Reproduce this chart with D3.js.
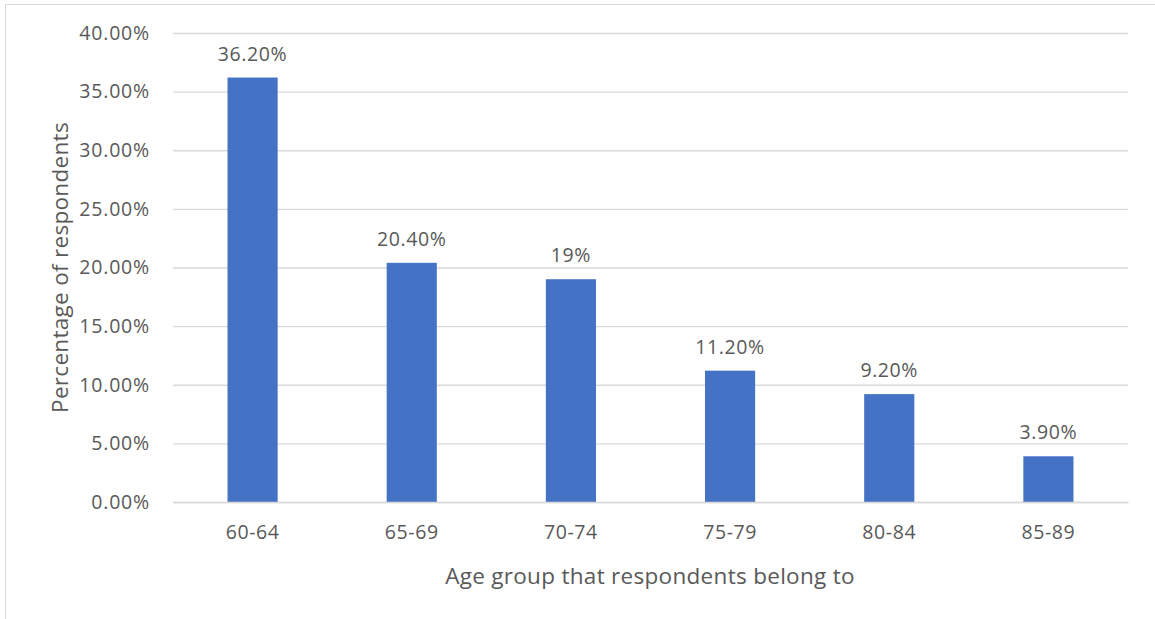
<!DOCTYPE html>
<html><head><meta charset="utf-8">
<script src="https://cdn.jsdelivr.net/npm/d3@7"></script>
<style>body{margin:0;background:#fff;}svg{display:block;}</style>
</head><body>
<script>
const categories = ["60-64","65-69","70-74","75-79","80-84","85-89"];
const values = [36.2, 20.4, 19, 11.2, 9.2, 3.9];
const valueLabels = ["36.20%","20.40%","19%","11.20%","9.20%","3.90%"];
const yTicks = [0,5,10,15,20,25,30,35,40];

const W = 1155, H = 619;
const m = {left:173, right:W-1128, top:33, bottom:H-502};
const font = "'Open Sans', sans-serif";
const textColor = "#595959";

const svg = d3.select("body").append("svg").attr("width",W).attr("height",H);
svg.append("rect").attr("x",5.5).attr("y",4.5).attr("width",W+10).attr("height",H+10)
  .attr("fill","#fff").attr("stroke","#d9d9d9").attr("stroke-width",1);

const x = d3.scaleBand().domain(categories).range([m.left, W-m.right]).paddingInner(0.685).paddingOuter(0.3425);
const y = d3.scaleLinear().domain([0,40]).range([H-m.bottom, m.top]);

const yAxis = svg.append("g").attr("transform",`translate(${m.left},0)`)
  .call(d3.axisLeft(y).tickValues(yTicks).tickSize(-(W-m.right-m.left)).tickPadding(23).tickFormat(d=>d.toFixed(2)+"%"));
yAxis.select(".domain").remove();
yAxis.selectAll(".tick line").attr("stroke","#d9d9d9").attr("stroke-width",1.3);
yAxis.selectAll(".tick text").attr("fill",textColor).style("font-family",font).style("font-size","19.5px").attr("letter-spacing","0.8px");

svg.append("g").selectAll("rect").data(values).join("rect")
  .attr("x",(d,i)=>x(categories[i])).attr("width",x.bandwidth())
  .attr("y",d=>y(d)).attr("height",d=>y(0)-y(d)).attr("fill","#4472C4");

svg.append("g").selectAll("text").data(values).join("text")
  .attr("x",(d,i)=>x(categories[i])+x.bandwidth()/2).attr("y",d=>y(d)-17)
  .attr("text-anchor","middle").attr("fill",textColor).style("font-family",font).style("font-size","19.5px").attr("letter-spacing","0.6px")
  .text((d,i)=>valueLabels[i]);

const xAxis = svg.append("g").attr("transform",`translate(0,${H-m.bottom})`)
  .call(d3.axisBottom(x).tickSize(0).tickPadding(23));
xAxis.select(".domain").attr("stroke","#d9d9d9").attr("stroke-width",1.3);
xAxis.selectAll(".tick text").attr("fill",textColor).style("font-family",font).style("font-size","19.5px").attr("letter-spacing","0.6px");

svg.append("text").attr("x",650).attr("y",584).attr("text-anchor","middle")
  .attr("fill",textColor).style("font-family",font).style("font-size","22.5px").attr("letter-spacing","0.3px").text("Age group that respondents belong to");
svg.append("text").attr("transform",`translate(68,${(m.top+H-m.bottom)/2}) rotate(-90)`).attr("text-anchor","middle")
  .attr("fill",textColor).style("font-family",font).style("font-size","22.5px").attr("letter-spacing","0.3px").text("Percentage of respondents");
</script>
</body></html>
